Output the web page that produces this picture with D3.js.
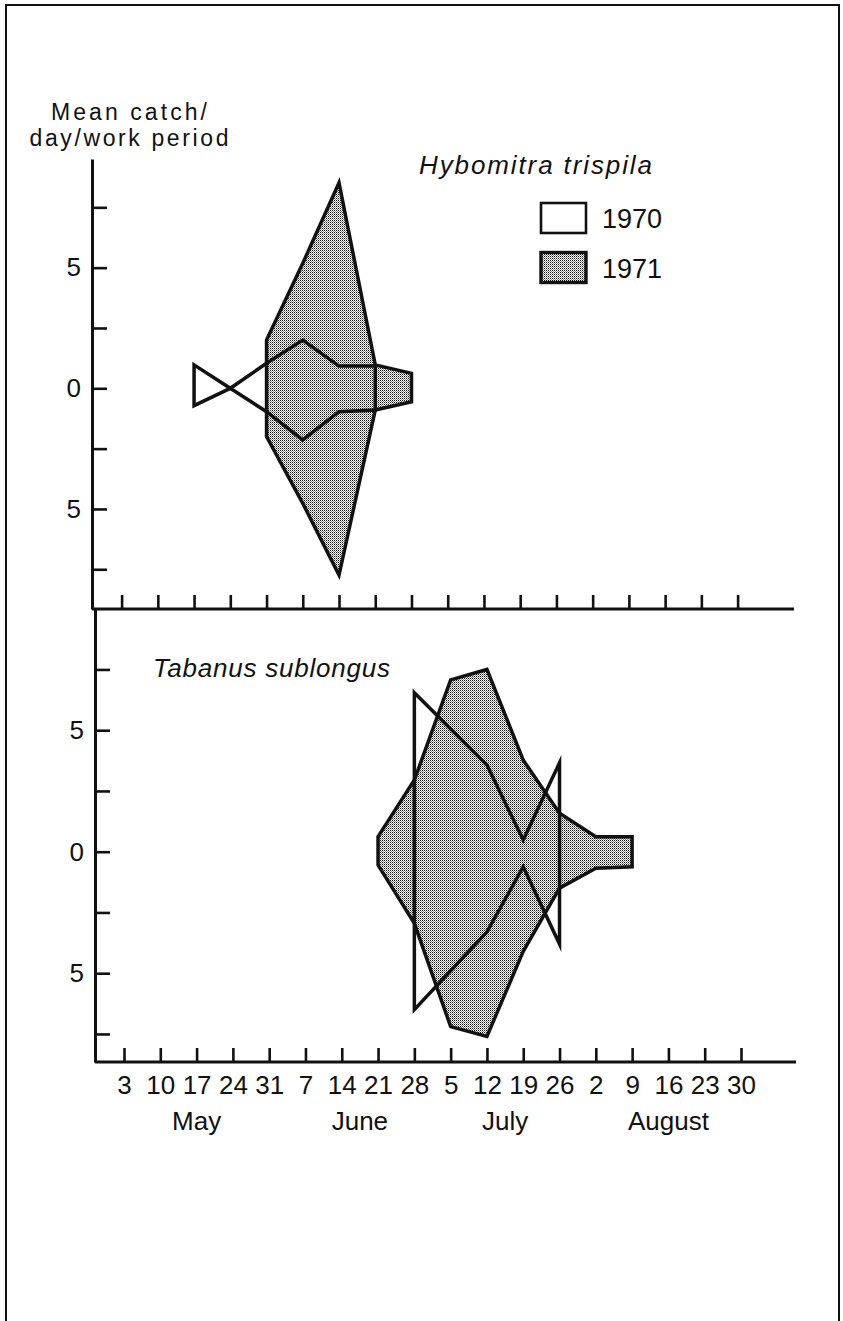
<!DOCTYPE html>
<html>
<head>
<meta charset="utf-8">
<script src="https://cdn.jsdelivr.net/npm/d3@7"></script>
<style>
  html, body { margin: 0; padding: 0; background: #fff; }
  svg { display: block; }
  text { font-family: "Liberation Sans", Arial, sans-serif; fill: #111; }
</style>
</head>
<body>
<script>
// ---------------- DATA ----------------
const weekKeys   = ["05-03","05-10","05-17","05-24","05-31","06-07","06-14","06-21","06-28",
                    "07-05","07-12","07-19","07-26","08-02","08-09","08-16","08-23","08-30"];
const tickLabels = ["3","10","17","24","31","7","14","21","28","5","12","19","26","2","9","16","23","30"];
const weekMonth  = ["May","May","May","May","May","June","June","June","June",
                    "July","July","July","July","August","August","August","August","August"];
const months     = ["May","June","July","August"];
const yTickValues = [7.5, 5, 2.5, 0, -2.5, -5, -7.5];

// Hybomitra trispila (half-widths above / below the centre line)
const hybDates1970 = ["05-17","05-24","05-31","06-07","06-14","06-21"];
const hyb1970Upper = [0.97, 0, 1.04, 2.0, 0.92, 0.92];
const hyb1970Lower = [0.72, 0, 0.97, 2.14, 0.97, 0.90];
const hybDates1971 = ["05-31","06-07","06-14","06-21","06-28"];
const hyb1971Upper = [2.0, 5.18, 8.52, 0.97, 0.62];
const hyb1971Lower = [2.0, 4.77, 7.74, 0.90, 0.56];

// Tabanus sublongus
const tabDates1970 = ["06-28","07-05","07-12","07-19","07-26"];
const tab1970Upper = [6.54, 5.05, 3.57, 0.48, 3.66];
const tab1970Lower = [6.50, 4.90, 3.30, 0.62, 3.80];
const tabDates1971 = ["06-21","06-28","07-05","07-12","07-19","07-26","08-02","08-09"];
const tab1971Upper = [0.62, 2.95, 7.07, 7.50, 3.77, 1.58, 0.62, 0.62];
const tab1971Lower = [0.55, 2.95, 7.20, 7.60, 4.10, 1.50, 0.68, 0.62];

const legendYears = ["1970","1971"];
const yAxisTitle  = ["Mean catch/","day/work period"];
const speciesTop  = "Hybomitra trispila";
const speciesBot  = "Tabanus sublongus";

// ---------------- LAYOUT ----------------
const W = 843, H = 1321;
const svg = d3.select("body").append("svg").attr("width", W).attr("height", H);

const defs = svg.append("defs");
const pat = defs.append("pattern").attr("id","stip").attr("width",2).attr("height",2)
  .attr("patternUnits","userSpaceOnUse");
pat.append("rect").attr("width",2).attr("height",2).attr("fill","#fff");
pat.append("rect").attr("x",0).attr("y",0).attr("width",1).attr("height",1).attr("fill","#111");
pat.append("rect").attr("x",1).attr("y",1).attr("width",1).attr("height",1).attr("fill","#8a8a8a");

// outer frame (open at the bottom)
svg.append("path").attr("d", `M6,${H} V5 H839 V${H}`)
  .attr("fill","none").attr("stroke","#111").attr("stroke-width",2);

const panelA = { axisX: 92, yTop: 159, yBot: 609, xEnd: 794, x0: 121.6, x1: 737.6, zeroY: 388.3, unit: 24.13 };
const panelB = { axisX: 95, yTop: 609, yBot: 1062, xEnd: 796, x0: 124.0, x1: 741.0, zeroY: 851.7, unit: 24.3 };

function makePanel(p, series, showLabels) {
  const x = d3.scalePoint().domain(weekKeys).range([p.x0, p.x1]);
  const y = d3.scaleLinear()
    .domain([(p.zeroY - p.yBot) / p.unit, (p.zeroY - p.yTop) / p.unit])
    .range([p.yBot, p.yTop]);

  const g = svg.append("g");

  // kites
  const area = d3.area()
    .x(d => x(d.date))
    .y0(d => y(-d.lower))
    .y1(d => y(d.upper));
  series.forEach(s => {
    const pts = s.dates.map((d, i) => ({ date: d, upper: s.upper[i], lower: s.lower[i] }));
    g.append("path").attr("d", area(pts))
      .attr("fill", s.filled ? "url(#stip)" : "none")
      .attr("stroke", "#111").attr("stroke-width", 3.5)
      .attr("stroke-linejoin", "miter").attr("stroke-miterlimit", 12);
  });

  // y axis
  const ya = g.append("g").attr("transform", `translate(${p.axisX},0)`)
    .call(d3.axisLeft(y).tickValues(yTickValues).tickSizeInner(-15).tickSizeOuter(0)
      .tickPadding(11).tickFormat(d => (d % 5 === 0 ? String(Math.abs(d)) : "")));
  ya.select(".domain").attr("stroke","#111").attr("stroke-width",3);
  ya.selectAll(".tick line").attr("stroke","#111").attr("stroke-width",2.6);
  ya.selectAll(".tick text").attr("font-size",26).attr("font-family","Liberation Sans, Arial, sans-serif").attr("fill","#111");

  // x axis
  const xa = g.append("g").attr("transform", `translate(0,${p.yBot})`)
    .call(d3.axisBottom(x).tickSizeInner(-14).tickSizeOuter(0).tickPadding(14)
      .tickFormat(d => showLabels ? tickLabels[weekKeys.indexOf(d)] : ""));
  xa.select(".domain").remove();
  xa.selectAll(".tick line").attr("stroke","#111").attr("stroke-width",2.6);
  xa.selectAll(".tick text").attr("font-size",26).attr("font-family","Liberation Sans, Arial, sans-serif").attr("fill","#111");
  xa.append("line").attr("x1", p.axisX).attr("x2", p.xEnd)
    .attr("y1", 0).attr("y2", 0).attr("stroke","#111").attr("stroke-width",3);

  if (showLabels) {
    months.forEach(m => {
      const xs = weekKeys.filter((k, i) => weekMonth[i] === m).map(k => x(k));
      g.append("text").attr("x", d3.mean(xs)).attr("y", p.yBot + 68)
        .attr("text-anchor","middle").attr("font-size",26).text(m);
    });
  }
  return { x, y, g };
}

makePanel(panelA, [
  { dates: hybDates1971, upper: hyb1971Upper, lower: hyb1971Lower, filled: true },
  { dates: hybDates1970, upper: hyb1970Upper, lower: hyb1970Lower, filled: false }
], false);

makePanel(panelB, [
  { dates: tabDates1971, upper: tab1971Upper, lower: tab1971Lower, filled: true },
  { dates: tabDates1970, upper: tab1970Upper, lower: tab1970Lower, filled: false }
], true);

// y-axis title
svg.append("text").attr("x", 129).attr("y", 120).attr("text-anchor","middle")
  .attr("font-size",23).attr("textLength",156).attr("lengthAdjust","spacing").text(yAxisTitle[0]);
svg.append("text").attr("x", 129).attr("y", 146).attr("text-anchor","middle")
  .attr("font-size",23).attr("textLength",199).attr("lengthAdjust","spacing").text(yAxisTitle[1]);

// species names
svg.append("text").attr("x", 419).attr("y", 174).attr("font-size",26).attr("font-style","italic")
  .attr("textLength",233).attr("lengthAdjust","spacing").text(speciesTop);
svg.append("text").attr("x", 153).attr("y", 677).attr("font-size",26).attr("font-style","italic")
  .attr("textLength",237).attr("lengthAdjust","spacing").text(speciesBot);

// legend
const leg = svg.append("g");
legendYears.forEach((yr, i) => {
  const y0 = 203 + i * 49.5;
  leg.append("rect").attr("x", 541).attr("y", y0).attr("width", 45).attr("height", 30)
    .attr("fill", i === 1 ? "url(#stip)" : "#fff")
    .attr("stroke","#111").attr("stroke-width", i === 1 ? 3.4 : 2.6);
  leg.append("text").attr("x", 602).attr("y", y0 + 25).attr("font-size",27).text(yr);
});
</script>
</body>
</html>
